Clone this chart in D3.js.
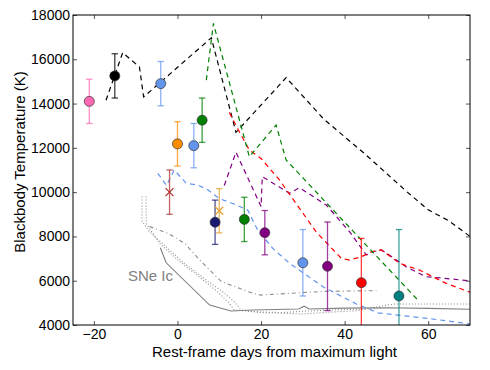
<!DOCTYPE html>
<html>
<head>
<meta charset="utf-8">
<script src="https://cdn.jsdelivr.net/npm/d3@7"></script>
<style>
  body { margin: 0; background: #fff; }
  text { font-family: "Liberation Sans", Arial, sans-serif; }
</style>
</head>
<body>
<svg id="chart" width="490" height="370"></svg>
<script>
// observed points: rest-frame day, temperature, error
var pointDays  = [-21.1, -15.0, -4.0, 0.0, 3.9, 5.9, -1.9, 9.0, 10.0, 16.0, 20.9, 30.0, 35.9, 44.0, 53.0];
var pointTemps = [14100, 15250, 14900, 12180, 12100, 13250, 10000, 8640, 9160, 8770, 8170, 6810, 6650, 5910, 5310];
var pointErrs  = [1000, 1000, 1000, 1000, 1000, 1000, 1000, 1000, 1000, 1000, 1000, 1500, 2000, 2000, 3000];
var pointNames = ["pink", "black", "blue1", "orange", "blue2", "green", "brownx", "navy", "tanx", "green2", "purple1", "blue3", "purple2", "red", "teal"];

// model curves (dashed)
var blackDays  = [-17.1, -13.1, -9.1, -8.1, 8.1, 14, 26, 35, 45, 55, 60, 65, 70];
var blackTemps = [14150, 16300, 15650, 14300, 16970, 12700, 15170, 13300, 11700, 10000, 9200, 8700, 8000];
var greenDays  = [6.9, 8.6, 17.2, 23.6, 26.0, 57.5];
var greenTemps = [15060, 17620, 11600, 13030, 11450, 5130];
var redDays    = [12.4, 14.8, 17.2, 20.0, 24.4, 33.2, 39.2, 41.2, 44.0, 46.4, 48.8, 53.1, 57.9, 64.3, 70];
var redTemps   = [13600, 12730, 11900, 11520, 10550, 8200, 7010, 6935, 7080, 7310, 7390, 6790, 6480, 5880, 5480];
var purpleDays  = [11.2, 14.0, 20.0, 20.3, 26.8, 29.2, 35.6, 41.2, 45.2, 46.8, 48.8, 50.7, 54.7, 59.5, 63.4, 70];
var purpleTemps = [10300, 11800, 9350, 10700, 9950, 10200, 9420, 8210, 7160, 7310, 7390, 7160, 6630, 6180, 6120, 5990];
var blueDays  = [-4.7, -2.6, -0.8, 2.1, 4.9, 7.3, 10.0, 13.2, 16.8, 19.2, 22.8, 26.8, 34.8, 42.8, 48.0, 56.0, 62.7, 70];
var blueTemps = [10850, 10300, 11000, 10400, 10320, 10100, 9710, 9490, 9190, 8290, 7460, 6790, 5730, 4950, 4550, 4380, 4230, 4050];

// SNe Ic comparison (grey)
var icSolidDays  = [-4.1, -2.7, 7.7, 12.8, 18, 29, 30.3, 31.5, 40, 50, 60, 70];
var icSolidTemps = [7490, 6810, 4900, 4630, 4680, 4720, 4850, 4720, 4760, 4780, 4750, 4710];
var icDot1Days  = [-8.5, -8.5, -6.7, -2.7, 1.7, 6.9, 10.8, 13.6, 15.2, 20, 30, 35, 43, 50, 52, 70];
var icDot1Temps = [9800, 8700, 8210, 7530, 6780, 6030, 5500, 5050, 4680, 4560, 4500, 4560, 4650, 4900, 4950, 4950];
var icDot2Days  = [-7.5, -7.5, -4.3, 0.1, 5.7, 9.6, 12.4, 13.6, 18, 25, 30, 40, 49];
var icDot2Temps = [9800, 8600, 7690, 6935, 6100, 5500, 4980, 4680, 4600, 4560, 4620, 4700, 4750];
var icDashDotDays  = [-6.7, -2.3, 1.7, 5.7, 10.5, 18, 20, 26.8, 35, 47.6];
var icDashDotTemps = [8450, 8140, 7690, 6860, 5960, 5430, 5350, 5430, 5520, 5550];

var xTicks = [-20, 0, 20, 40, 60];
var yTicks = [4000, 6000, 8000, 10000, 12000, 14000, 16000, 18000];

// styling
var colors = {
    pink: "#ff69b4", black: "#000000", blue1: "#6495ed", orange: "#ff8c00", blue2: "#6495ed",
    green: "#008000", brownx: "#b03030", navy: "#191970", tanx: "#e0a030", green2: "#008000",
    purple1: "#800080", blue3: "#6495ed", purple2: "#800080", red: "#ff0000", teal: "#008080"
};

var svg = d3.select("#chart");
var mLeft = 73, mRight = 470, mTop = 15, mBottom = 325;

var x = d3.scaleLinear().domain([-25, 70]).range([mLeft, mRight]);
var y = d3.scaleLinear().domain([4000, 18000]).range([mBottom, mTop]);

svg.append("defs").append("clipPath").attr("id", "clip")
    .append("rect")
    .attr("x", mLeft).attr("y", mTop)
    .attr("width", mRight - mLeft).attr("height", mBottom - mTop);

var plot = svg.append("g").attr("clip-path", "url(#clip)");

var line = d3.line()
    .x(function(d) { return x(d[0]); })
    .y(function(d) { return y(d[1]); });

function zipLine(days, temps) {
    return days.map(function(d, i) { return [d, temps[i]]; });
}

// grey SNe Ic lines
var greyLines = [
    {pts: zipLine(icSolidDays, icSolidTemps), dash: null, c: "#808080"},
    {pts: zipLine(icDot1Days, icDot1Temps), dash: "1,2", c: "#8c8c8c"},
    {pts: zipLine(icDot2Days, icDot2Temps), dash: "1,2", c: "#8c8c8c"},
    {pts: zipLine(icDashDotDays, icDashDotTemps), dash: "4,3,1,3", c: "#8c8c8c"}
];
plot.selectAll(".grey")
    .data(greyLines)
    .enter().append("path")
    .attr("class", "grey")
    .attr("d", function(d) { return line(d.pts); })
    .attr("fill", "none")
    .attr("stroke", function(d) { return d.c; })
    .attr("stroke-width", 1.1)
    .attr("stroke-dasharray", function(d) { return d.dash; });

// dashed model lines
var dashLines = [
    {pts: zipLine(blueDays, blueTemps), color: "#6495ed"},
    {pts: zipLine(blackDays, blackTemps), color: "#000000"},
    {pts: zipLine(purpleDays, purpleTemps), color: "#800080"},
    {pts: zipLine(redDays, redTemps), color: "#ff0000"},
    {pts: zipLine(greenDays, greenTemps), color: "#008000"}
];
plot.selectAll(".model")
    .data(dashLines)
    .enter().append("path")
    .attr("class", "model")
    .attr("d", function(d) { return line(d.pts); })
    .attr("fill", "none")
    .attr("stroke", function(d) { return d.color; })
    .attr("stroke-width", 1.2)
    .attr("stroke-dasharray", "5,4");

// error bars + markers
var points = pointDays.map(function(d, i) {
    return {day: d, temp: pointTemps[i], err: pointErrs[i], name: pointNames[i]};
});

var eb = plot.selectAll(".eb")
    .data(points)
    .enter().append("g")
    .attr("class", "eb")
    .attr("stroke", function(d) { return colors[d.name]; })
    .attr("stroke-opacity", 0.75)
    .attr("stroke-width", 1.3);
eb.append("line")
    .attr("x1", function(d) { return x(d.day); })
    .attr("x2", function(d) { return x(d.day); })
    .attr("y1", function(d) { return y(d.temp - d.err); })
    .attr("y2", function(d) { return y(d.temp + d.err); });
eb.append("line")
    .attr("x1", function(d) { return x(d.day) - 3.2; })
    .attr("x2", function(d) { return x(d.day) + 3.2; })
    .attr("y1", function(d) { return y(d.temp + d.err); })
    .attr("y2", function(d) { return y(d.temp + d.err); });
eb.append("line")
    .attr("x1", function(d) { return x(d.day) - 3.2; })
    .attr("x2", function(d) { return x(d.day) + 3.2; })
    .attr("y1", function(d) { return y(d.temp - d.err); })
    .attr("y2", function(d) { return y(d.temp - d.err); });

var isCross = function(d) { return d.name === "brownx" || d.name === "tanx"; };

plot.selectAll(".dot")
    .data(points.filter(function(d) { return !isCross(d); }))
    .enter().append("circle")
    .attr("class", "dot")
    .attr("cx", function(d) { return x(d.day); })
    .attr("cy", function(d) { return y(d.temp); })
    .attr("r", 5)
    .attr("fill", function(d) { return colors[d.name]; })
    .attr("stroke", "#333")
    .attr("stroke-width", 0.7);

plot.selectAll(".cross")
    .data(points.filter(isCross))
    .enter().append("path")
    .attr("class", "cross")
    .attr("d", function(d) {
        var cx = x(d.day), cy = y(d.temp), s = 4;
        return "M" + (cx - s) + "," + (cy - s) + "L" + (cx + s) + "," + (cy + s) +
               "M" + (cx - s) + "," + (cy + s) + "L" + (cx + s) + "," + (cy - s);
    })
    .attr("stroke", function(d) { return colors[d.name]; })
    .attr("stroke-width", 1.2)
    .attr("fill", "none");

// SNe Ic label
svg.append("text")
    .attr("x", 128).attr("y", 281)
    .attr("fill", "#808080")
    .style("font-size", "15px")
    .text("SNe Ic");

// axes: ticks pointing inward on all sides
var fmt = function(d) { return d < 0 ? "\u2212" + Math.abs(d) : String(d); };

svg.append("g")
    .attr("transform", "translate(0," + mBottom + ")")
    .call(d3.axisBottom(x).tickValues(xTicks).tickSizeInner(-4).tickSizeOuter(0).tickPadding(4).tickFormat(fmt))
    .call(function(g) { g.select(".domain").remove(); })
    .selectAll("text").style("font-size", "14px").attr("fill", "#000");

svg.append("g")
    .attr("transform", "translate(0," + mTop + ")")
    .call(d3.axisTop(x).tickValues(xTicks).tickSizeInner(-4).tickSizeOuter(0).tickFormat(""))
    .call(function(g) { g.select(".domain").remove(); });

svg.append("g")
    .attr("transform", "translate(" + mLeft + ",0)")
    .call(d3.axisLeft(y).tickValues(yTicks).tickSizeInner(-4).tickSizeOuter(0).tickPadding(3).tickFormat(d3.format("d")))
    .call(function(g) { g.select(".domain").remove(); })
    .selectAll("text").style("font-size", "14px").attr("fill", "#000");

svg.append("g")
    .attr("transform", "translate(" + mRight + ",0)")
    .call(d3.axisRight(y).tickValues(yTicks).tickSizeInner(-4).tickSizeOuter(0).tickFormat(""))
    .call(function(g) { g.select(".domain").remove(); });

svg.selectAll(".tick line").attr("stroke", "#555");

svg.append("rect")
    .attr("x", mLeft).attr("y", mTop)
    .attr("width", mRight - mLeft).attr("height", mBottom - mTop)
    .attr("fill", "none")
    .attr("stroke", "#000")
    .attr("stroke-width", 1);

// axis titles
svg.append("text")
    .attr("x", (mLeft + mRight) / 2 + 3).attr("y", 357)
    .attr("text-anchor", "middle")
    .style("font-size", "15px")
    .text("Rest-frame days from maximum light");

svg.append("text")
    .attr("transform", "translate(25," + 162 + ") rotate(-90)")
    .attr("text-anchor", "middle")
    .style("font-size", "15px")
    .text("Blackbody Temperature (K)");
</script>
</body>
</html>
